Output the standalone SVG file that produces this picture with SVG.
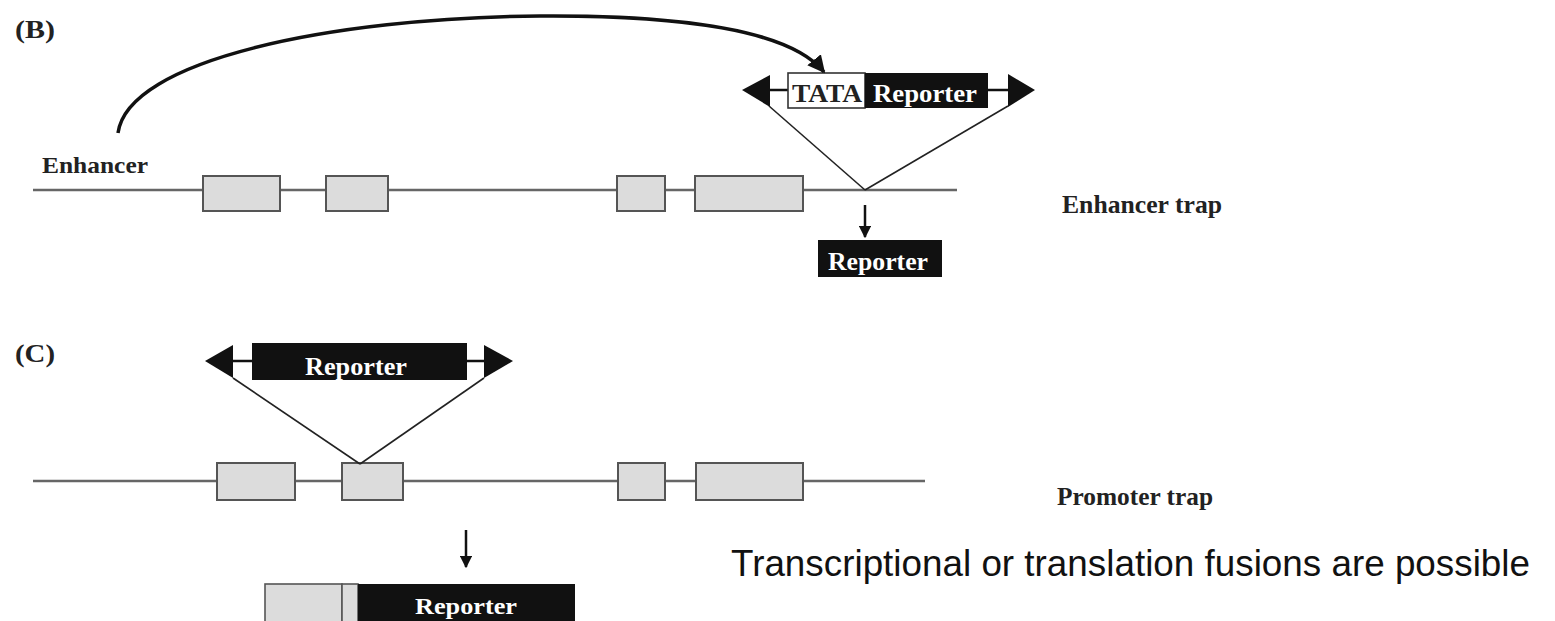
<svg xmlns="http://www.w3.org/2000/svg" width="1555" height="621" viewBox="0 0 1555 621">
<defs>
<style>
.lbl{font-family:"Liberation Serif",serif;font-weight:bold;fill:#222}
.wt{font-family:"Liberation Serif",serif;font-weight:bold;fill:#fff;text-anchor:middle}
.gene{stroke:#666;stroke-width:2.5;fill:none}
.exon{fill:#dcdcdc;stroke:#555;stroke-width:2}
.thin{stroke:#222;stroke-width:1.6;fill:none}
.blk{fill:#111}
</style>
<marker id="ah" viewBox="0 0 10 10" refX="9" refY="5" markerWidth="5" markerHeight="5" orient="auto"><path d="M0,0 L10,5 L0,10 z" fill="#111"/></marker>
</defs>
<rect width="1555" height="621" fill="#fff"/>

<g id="panelB">
<text class="lbl" x="15" y="38" font-size="26" textLength="40" lengthAdjust="spacingAndGlyphs">(B)</text>
<g id="geneB">
<line class="gene" x1="33" y1="190" x2="957" y2="190"/>
<rect class="exon" x="203" y="176" width="77" height="35"/>
<rect class="exon" x="326" y="176" width="62" height="35"/>
<rect class="exon" x="617" y="176" width="48" height="35"/>
<rect class="exon" x="695" y="176" width="108" height="35"/>
</g>
<text id="enhancer" class="lbl" x="42" y="173" font-size="24" textLength="106" lengthAdjust="spacingAndGlyphs">Enhancer</text>
<g id="constructB">
<line x1="770" y1="90" x2="1012" y2="90" stroke="#111" stroke-width="2.5"/>
<polygon class="blk" points="742,90 770,75 770,107"/>
<polygon class="blk" points="1035,90 1008,74 1008,107"/>
<rect x="788" y="73" width="77" height="35" fill="#fff" stroke="#333" stroke-width="1.6"/>
<text x="792" y="102" font-size="26" class="lbl" textLength="70" lengthAdjust="spacingAndGlyphs">TATA</text>
<rect x="865" y="73" width="123" height="35" fill="#111"/>
<text class="wt" x="925" y="102" font-size="26" textLength="104" lengthAdjust="spacingAndGlyphs">Reporter</text>
<line class="thin" x1="769" y1="106" x2="865" y2="190"/>
<line class="thin" x1="1008" y1="106" x2="865" y2="190"/>
</g>
<g id="reporterB">
<rect x="818" y="240" width="124" height="37" fill="#111"/>
<text class="wt" x="878" y="270" font-size="26" textLength="100" lengthAdjust="spacingAndGlyphs">Reporter</text>
</g>
<text id="enhtrap" class="lbl" x="1062" y="213" font-size="26" textLength="160" lengthAdjust="spacingAndGlyphs">Enhancer trap</text>
</g>

<g id="panelC">
<text class="lbl" x="15" y="362" font-size="26" textLength="40" lengthAdjust="spacingAndGlyphs">(C)</text>
<g id="geneC">
<line class="gene" x1="33" y1="481" x2="925" y2="481"/>
<rect class="exon" x="217" y="463" width="78" height="37"/>
<rect class="exon" x="342" y="463" width="61" height="37"/>
<rect class="exon" x="618" y="463" width="47" height="37"/>
<rect class="exon" x="696" y="463" width="107" height="37"/>
</g>
<g id="constructC">
<line x1="233" y1="361" x2="484" y2="361" stroke="#111" stroke-width="2.5"/>
<polygon class="blk" points="205,361 233,345 233,378"/>
<polygon class="blk" points="513,361 484,345 484,378"/>
<rect x="252" y="343" width="215" height="37" fill="#111"/>
<text class="wt" x="356" y="375" font-size="26" textLength="102" lengthAdjust="spacingAndGlyphs">Reporter</text>
<line class="thin" x1="233" y1="378" x2="360" y2="464"/>
<line class="thin" x1="484" y1="378" x2="360" y2="464"/>
</g>
<g id="fusionC">
<rect x="265" y="584" width="77" height="40" fill="#dcdcdc" stroke="#555" stroke-width="1.6"/>
<rect x="342" y="584" width="16" height="40" fill="#dcdcdc" stroke="#555" stroke-width="1.6"/>
<rect x="358" y="584" width="217" height="40" fill="#111"/>
<text class="wt" x="466" y="614" font-size="24" textLength="102" lengthAdjust="spacingAndGlyphs">Reporter</text>
</g>
<text id="promtrap" class="lbl" x="1057" y="505" font-size="26" textLength="156" lengthAdjust="spacingAndGlyphs">Promoter trap</text>
</g>

<g id="connectors">
<path d="M118,133 C128,60 330,18 540,16 C680,15 790,30 824,72" stroke="#111" stroke-width="3.5" fill="none" marker-end="url(#ah)"/>
<line x1="865" y1="205" x2="865" y2="237" stroke="#111" stroke-width="2.5" marker-end="url(#ah)"/>
<line x1="466" y1="530" x2="466" y2="567" stroke="#111" stroke-width="2.5" marker-end="url(#ah)"/>
</g>

<text id="note" x="731" y="576" font-family="'Liberation Sans',Arial,sans-serif" font-size="37" fill="#111" textLength="799" lengthAdjust="spacingAndGlyphs">Transcriptional or translation fusions are possible</text>
</svg>
